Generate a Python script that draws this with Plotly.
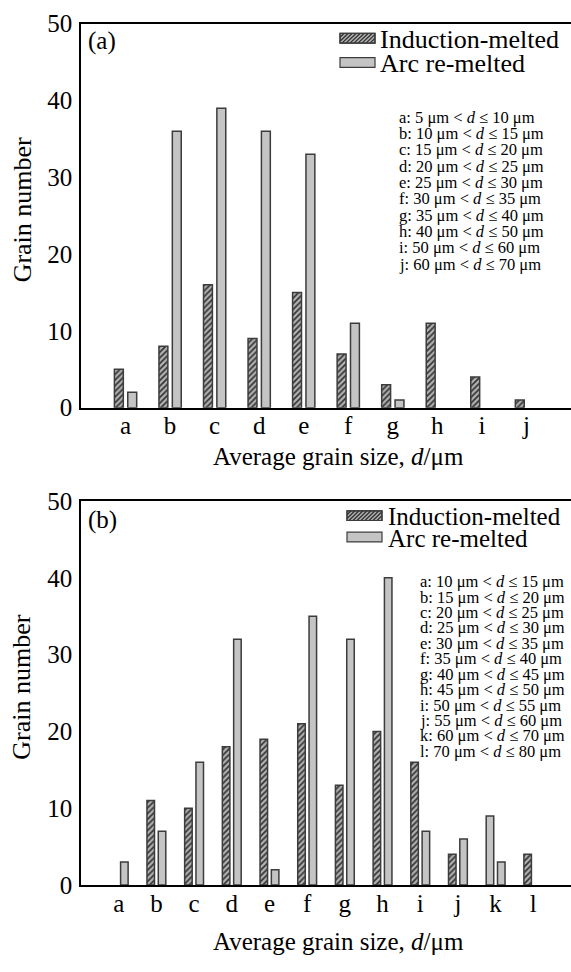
import plotly.graph_objects as go

W, H = 571, 972
FONT = "Liberation Serif, Times New Roman, serif"

# ---- data ----
cats_a = ["a", "b", "c", "d", "e", "f", "g", "h", "i", "j"]
induction_a = [5, 8, 16, 9, 15, 7, 3, 11, 4, 1]
arc_a = [2, 36, 39, 36, 33, 11, 1, 0, 0, 0]
ranges_a = [
    "a: 5 μm < <i>d</i> ≤ 10 μm",
    "b: 10 μm < <i>d</i> ≤ 15 μm",
    "c: 15 μm < <i>d</i> ≤ 20 μm",
    "d: 20 μm < <i>d</i> ≤ 25 μm",
    "e: 25 μm < <i>d</i> ≤ 30 μm",
    "f: 30 μm < <i>d</i> ≤ 35 μm",
    "g: 35 μm < <i>d</i> ≤ 40 μm",
    "h: 40 μm < <i>d</i> ≤ 50 μm",
    "i: 50 μm < <i>d</i> ≤ 60 μm",
    "j: 60 μm < <i>d</i> ≤ 70 μm",
]

cats_b = ["a", "b", "c", "d", "e", "f", "g", "h", "i", "j", "k", "l"]
induction_b = [0, 11, 10, 18, 19, 21, 13, 20, 16, 4, 9, 4]
arc_b = [3, 7, 16, 32, 2, 35, 32, 40, 7, 6, 3, 0]
# the "k" induction bar is drawn without hatching in the original figure
hatch_b = ["/", "/", "/", "/", "/", "/", "/", "/", "/", "/", "", "/"]
ranges_b = [
    "a: 10 μm < <i>d</i> ≤ 15 μm",
    "b: 15 μm < <i>d</i> ≤ 20 μm",
    "c: 20 μm < <i>d</i> ≤ 25 μm",
    "d: 25 μm < <i>d</i> ≤ 30 μm",
    "e: 30 μm < <i>d</i> ≤ 35 μm",
    "f: 35 μm < <i>d</i> ≤ 40 μm",
    "g: 40 μm < <i>d</i> ≤ 45 μm",
    "h: 45 μm < <i>d</i> ≤ 50 μm",
    "i: 50 μm < <i>d</i> ≤ 55 μm",
    "j: 55 μm < <i>d</i> ≤ 60 μm",
    "k: 60 μm < <i>d</i> ≤ 70 μm",
    "l: 70 μm < <i>d</i> ≤ 80 μm",
]

series_names = ["Induction-melted", "Arc re-melted"]
y_ticks = [0, 10, 20, 30, 40, 50]


def px(x):
    return x / W


def py(y):
    return 1 - y / H


LINE = "#3c3c3c"
ARC_FILL = "#c4c4c4"
HATCH_BG = "#b0b0b0"
HATCH_FG = "#303030"

fig = go.Figure()


def outline_widths(vals):
    # empty (zero) bins show no outline stub on the baseline
    return [1.5 if v > 0 else 0 for v in vals]


def add_panel(cats, ind, arc, hatch, xa, ya):
    xs = list(range(len(cats)))
    fig.add_trace(go.Bar(
        x=xs, y=ind, name=series_names[0], xaxis=xa, yaxis=ya, showlegend=False,
        offset=-0.25, width=0.2,
        marker=dict(color=ARC_FILL, line=dict(color=LINE, width=outline_widths(ind)),
                    pattern=dict(shape=hatch, fgcolor=HATCH_FG, bgcolor=HATCH_BG,
                                 size=4, solidity=0.4, fillmode="replace")),
    ))
    fig.add_trace(go.Bar(
        x=xs, y=arc, name=series_names[1], xaxis=xa, yaxis=ya, showlegend=False,
        offset=0.05, width=0.2,
        marker=dict(color=ARC_FILL, line=dict(color=LINE, width=outline_widths(arc))),
    ))


add_panel(cats_a, induction_a, arc_a, "/", "x", "y")
add_panel(cats_b, induction_b, arc_b, hatch_b, "x2", "y2")

ax_common = dict(showgrid=False, zeroline=False, showline=True, linecolor="black",
                 linewidth=1.5, ticks="", tickfont=dict(family=FONT, size=25, color="black"))

fig.update_layout(
    width=W, height=H,
    margin=dict(l=0, r=0, t=0, b=0),
    paper_bgcolor="white", plot_bgcolor="white",
    barmode="overlay",
    font=dict(family=FONT, color="black"),
    showlegend=False,
    xaxis=dict(domain=[px(81), 1], anchor="y", range=[-1, 10], mirror=True,
               tickmode="array", tickvals=list(range(len(cats_a))), ticktext=cats_a,
               ticklabelstandoff=-5, **ax_common),
    yaxis=dict(domain=[py(406), py(11)], anchor="x", range=[0, 50],
               tickmode="array", tickvals=y_ticks, ticklabelstandoff=2, **ax_common),
    xaxis2=dict(domain=[px(81), 1], anchor="y2", range=[-1, 12], mirror=True,
                tickmode="array", tickvals=list(range(len(cats_b))), ticktext=cats_b,
                ticklabelstandoff=-5, **ax_common),
    yaxis2=dict(domain=[py(897), py(502)], anchor="x2", range=[0, 50],
                tickmode="array", tickvals=y_ticks, ticklabelstandoff=2, **ax_common),
)

ann = []
shapes = []


def hatch_swatch(x0, y0, x1, y1, step=4):
    """Legend key: grey box with '/' hatching (pixel coords, y downward)."""
    shapes.append(dict(type="rect", xref="paper", yref="paper",
                       x0=px(x0), x1=px(x1), y0=py(y1), y1=py(y0),
                       fillcolor=HATCH_BG, line=dict(color=LINE, width=1.2), layer="above"))
    c = x0 + y0 + step
    while c < x1 + y1:
        xa = max(x0, c - y1)
        xb = min(x1, c - y0)
        if xb > xa:
            shapes.append(dict(type="line", xref="paper", yref="paper",
                               x0=px(xa), y0=py(c - xa), x1=px(xb), y1=py(c - xb),
                               line=dict(color=HATCH_FG, width=1.3), layer="above"))
        c += step
    shapes.append(dict(type="rect", xref="paper", yref="paper",
                       x0=px(x0), x1=px(x1), y0=py(y1), y1=py(y0),
                       fillcolor="rgba(0,0,0,0)", line=dict(color=LINE, width=1.2),
                       layer="above"))


def plain_swatch(x0, y0, x1, y1):
    shapes.append(dict(type="rect", xref="paper", yref="paper",
                       x0=px(x0), x1=px(x1), y0=py(y1), y1=py(y0),
                       fillcolor=ARC_FILL, line=dict(color=LINE, width=1.2), layer="above"))


def legend_block(sx0, sx1, tx, yc1, yc2, size):
    hatch_swatch(sx0, yc1 - 5, sx1, yc1 + 5)
    plain_swatch(sx0, yc2 - 5, sx1, yc2 + 5)
    for name, yc in zip(series_names, [yc1, yc2]):
        ann.append(dict(text=name, x=px(tx), y=py(yc + 1), xref="paper", yref="paper",
                        xanchor="left", yanchor="middle", showarrow=False,
                        font=dict(family=FONT, size=size)))


legend_block(340, 375, 378, 26, 51, 26)
legend_block(347, 382, 386, 517, 539, 25)

# panel labels
ann.append(dict(text="(a)", x=px(86), y=py(29), xref="paper", yref="paper",
                xanchor="left", yanchor="middle", showarrow=False,
                font=dict(family=FONT, size=25)))
ann.append(dict(text="(b)", x=px(86), y=py(521), xref="paper", yref="paper",
                xanchor="left", yanchor="middle", showarrow=False,
                font=dict(family=FONT, size=25)))
# axis titles
for yc, ymid in [(456, 203), (955, 694)]:
    ann.append(dict(text="Average grain size, <i>d</i>/μm", x=px(338), y=py(yc),
                    xref="paper", yref="paper", xanchor="center", yanchor="middle",
                    showarrow=False, font=dict(family=FONT, size=25)))
    ann.append(dict(text="Grain number", x=px(22), y=py(ymid), xref="paper", yref="paper",
                    xanchor="center", yanchor="middle", textangle=-90,
                    showarrow=False, font=dict(family=FONT, size=26)))
# range keys
for i, t in enumerate(ranges_a):
    ann.append(dict(text=t, x=px(397), y=py(107 + i * 16.8), xref="paper", yref="paper",
                    xanchor="left", yanchor="middle", showarrow=False,
                    font=dict(family=FONT, size=16.5)))
for i, t in enumerate(ranges_b):
    ann.append(dict(text=t, x=px(418), y=py(585 + i * 15.85), xref="paper", yref="paper",
                    xanchor="left", yanchor="middle", showarrow=False,
                    font=dict(family=FONT, size=16.5)))
fig.update_layout(annotations=ann, shapes=shapes)

# remove the default 8px page margin so the figure sits at the window origin
fig.write_html("out.html",
               config={"displayModeBar": False},
               post_script="document.body.style.margin='0';document.body.style.overflow='hidden';")
